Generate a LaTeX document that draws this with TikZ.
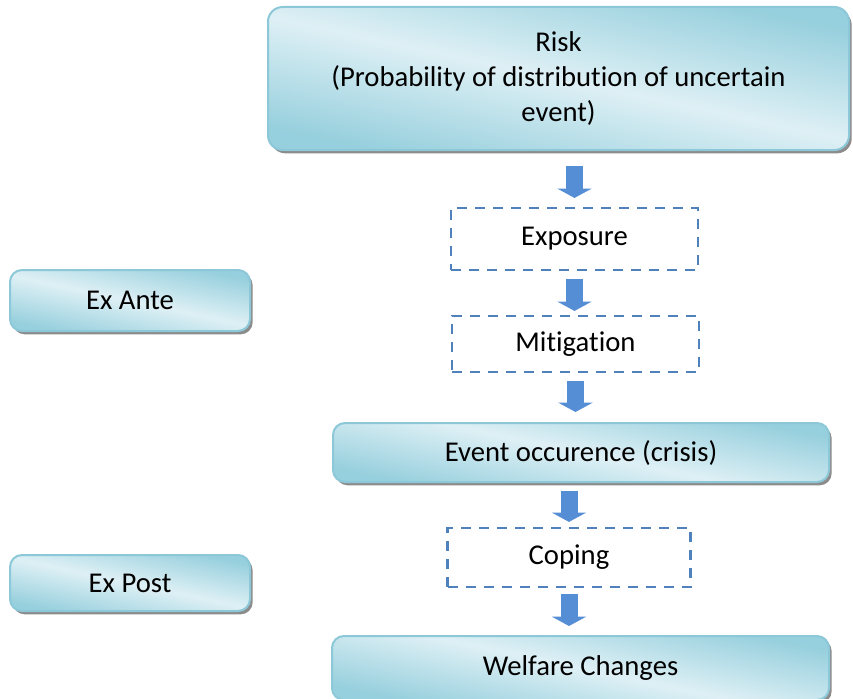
\documentclass[tikz,border=0pt]{standalone}
\usepackage{fontspec}
\setmainfont{Carlito}[Ligatures=NoCommon]
\usetikzlibrary{arrows.meta, shadows}
\definecolor{boxlight}{RGB}{222,240,245}
\definecolor{boxdark}{RGB}{150,207,221}
\definecolor{boxline}{RGB}{140,200,216}
\definecolor{dashblue}{RGB}{79,129,189}
\definecolor{arrowblue}{RGB}{85,142,213}
\tikzstyle{stage} = [draw=boxline, line width=1.5pt, rounded corners=9pt, top color=boxdark, bottom color=boxdark, middle color=boxlight, shading angle=-12, drop shadow={shadow xshift=2pt, shadow yshift=-2.5pt, fill=black!45, opacity=1}, align=center, inner sep=0pt]
\tikzstyle{dashbox} = [draw=dashblue, line width=1.6pt, dash pattern=on 7.5pt off 6pt, align=center, inner sep=0pt]
\tikzstyle{flow} = [draw=arrowblue, line width=12.75pt, -{Triangle[width=25.5pt,length=7pt]}]

\begin{document}
\begin{tikzpicture}[x=0.75pt, y=0.75pt, every node/.style={font=\fontsize{21.5}{26.25}\selectfont}]
		\useasboundingbox (0,0) rectangle (853,-699);
		\node [stage, rounded corners=11pt, minimum width=435.75pt, minimum height=107.25pt] (risk) at (558.5,-78.5) {Risk\\(Probability of distribution of uncertain\\event)};
		\node [dashbox, minimum width=185.25pt, minimum height=46.5pt] (expo) at (574.5,-239) {Exposure};
		\node [dashbox, minimum width=185.25pt, minimum height=42pt] (mitig) at (575.5,-344) {Mitigation};
		\node [stage, minimum width=372pt, minimum height=44.25pt] (event) at (581,-452.5) {Event occurence (crisis)};
		\node [dashbox, minimum width=182.25pt, minimum height=44.25pt] (coping) at (569,-557.5) {Coping};
		\node [stage, minimum width=372.75pt, minimum height=48pt] (welfare) at (580.5,-668) {Welfare Changes};
		\node [stage, minimum width=180pt, minimum height=45.75pt] (exante) at (130,-300.5) {Ex Ante};
		\node [stage, minimum width=180pt, minimum height=42pt] (expost) at (130,-583) {Ex Post};

		\draw[flow, shorten <=11.25pt, shorten >=6.75pt] (risk.south -| expo.north) -- (expo.north);
		\draw[flow, shorten <=6pt, shorten >=3pt] (expo.south) -- (expo.south |- mitig.north);
		\draw[flow, shorten <=6pt, shorten >=7.5pt] (mitig.south) -- (mitig.south |- event.north);
		\draw[flow, shorten <=6pt, shorten >=3.75pt] (event.south -| coping.north) -- (coping.north);
		\draw[flow, shorten <=4.5pt, shorten >=6.75pt] (coping.south) -- (coping.south |- welfare.north);
		\end{tikzpicture}
\end{document}
